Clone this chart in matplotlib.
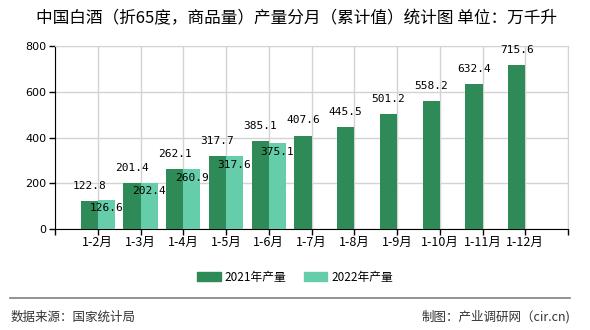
import matplotlib
matplotlib.use("Agg")
import matplotlib.pyplot as plt
from matplotlib.patches import Rectangle
from matplotlib.lines import Line2D

plt.rcParams['font.family'] = ['Noto Sans CJK SC', 'DejaVu Sans']

categories = ["1-2月", "1-3月", "1-4月", "1-5月", "1-6月", "1-7月", "1-8月", "1-9月", "1-10月", "1-11月", "1-12月"]
values_2021 = [122.8, 201.4, 262.1, 317.7, 385.1, 407.6, 445.5, 501.2, 558.2, 632.4, 715.6]
values_2022 = [126.6, 202.4, 260.9, 317.6, 375.1]
series_names = ["2021年产量", "2022年产量"]
title = "中国白酒（折65度，商品量）产量分月（累计值）统计图 单位：万千升"
source = "数据来源：国家统计局"
credit = "制图：产业调研网（cir.cn)"

c2021 = "#2E8B57"
c2022 = "#66CDAA"

fig = plt.figure(figsize=(5.9, 3.3), dpi=100)
ax = fig.add_axes([55/590, 1-229/330, (568-55)/590, (229-46)/330])

x1 = list(range(1, len(values_2021)+1))
x2 = list(range(1, len(values_2022)+1))
bw = 0.4
ax.bar(x1, values_2021, width=-bw, align='edge', color=c2021, zorder=3)
ax.bar(x2, values_2022, width=bw, align='edge', color=c2022, zorder=3)

lblfont = dict(family='DejaVu Sans Mono', fontsize=8, color='black')
for x, v in zip(x1, values_2021):
    ax.annotate(f"{v:.1f}", (x - bw/2, v), xytext=(0, 11), textcoords='offset points',
                ha='center', va='center', zorder=5, **lblfont)
for x, v in zip(x2, values_2022):
    ax.annotate(f"{v:.1f}", (x + bw/2, v), xytext=(0, -6), textcoords='offset points',
                ha='center', va='center', zorder=5, **lblfont)

ax.set_xlim(0, 12)
ax.set_ylim(0, 800)
ax.set_xticks(range(0, 13))
ax.set_xticklabels([""] + categories + [""], fontsize=9)
ax.set_yticks([0, 200, 400, 600, 800])
ax.set_yticklabels(["0", "200", "400", "600", "800"], fontsize=8, family='DejaVu Sans')
ax.grid(True, color='#d3d3d3', linewidth=1, zorder=0)
ax.set_axisbelow(True)
for s in ['top', 'right']:
    ax.spines[s].set_color('#d3d3d3')
for s in ['left', 'bottom']:
    ax.spines[s].set_color('black')
ax.tick_params(axis='x', length=4, width=1, pad=1)
ax.tick_params(axis='y', length=4, width=1, pad=2)

fig.text(297/590, 1-19/330, title, ha='center', va='center', fontsize=12)

# legend
handles = [Rectangle((0, 0), 1, 1, color=c2021), Rectangle((0, 0), 1, 1, color=c2022)]
fig.legend(handles, series_names, loc='center', bbox_to_anchor=(295/590, 1-277/330),
           ncol=2, frameon=False, fontsize=8.5, handlelength=2.0, handleheight=0.8,
           handletextpad=0.3, columnspacing=1.5)

fig.add_artist(Line2D([10/590, 570/590], [1-298/330, 1-298/330], color='#808080', linewidth=1.2))
fig.text(11/590, 1-317/330, source, ha='left', va='center', fontsize=9, color='#333333')
fig.text(570/590, 1-317/330, credit, ha='right', va='center', fontsize=9, color='#333333')

fig.savefig("out.png", dpi=100)
